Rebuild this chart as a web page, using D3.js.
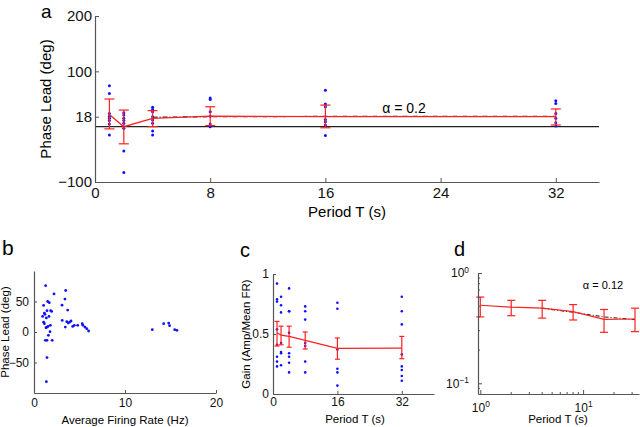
<!DOCTYPE html>
<html><head><meta charset="utf-8">
<script src="https://cdn.jsdelivr.net/npm/d3@7"></script>
<style>body{margin:0;background:#fff}svg{display:block}</style>
</head><body>
<div id="chart"></div>
<script>
// ---------- DATA ----------
const periods = [1, 2, 4, 8, 16, 32];
// Panel a: phase lead
const phaseMean = [22, 0, 15, 19, 18, 18];
const phaseHi = [50, 30, 29, 36, 39, 32];
const phaseLo = [-4, -31, 0, 2, -2, 3];
const phaseFitT = [4, 8, 16, 32];
const phaseFit = [17, 18, 18.5, 18.5];
const phaseDots = [
  [74, 60, 24, 19, 15, 11, 5, -15],
  [25, 21, 15, 11, 6, -3, -44, -83],
  [35, 31, 27, 18, 12, 6, -8, -15],
  [52, 49, 27, 19, 5, 0],
  [66, 41, 36, 13, 9, 3, -16],
  [47, 42, 24, 15, 7, 1]
];
const aXTicks = [0, 8, 16, 24, 32];
const aYTicks = [-100, 18, 100, 200];
const alphaA = "α = 0.2";

// Panel b: phase lead vs firing rate
const rateX = [1.28,2.2,3.48,1.5,1.68,1.06,3.08,3.4,1.83,1.43,0.95,1.2,1.14,1.36,1.65,1.94,1.06,1.14,1.54,1.32,1.43,1.8,1.76,1.58,1.25,1.43,2.0,1.43,1.36,3.1,3.44,3.7,3.6,3.77,3.92,4.07,4.25,4.43,4.8,5.38,5.3,5.6,5.8,6.0,13.0,14.25,14.8,14.9,15.46,15.7];
const rateY = [76,62.5,68,50,48,43.5,44,54,35,35,25.5,29,31,23,25.5,33.7,16,13.6,9.2,7,8,11,0.5,-5.4,-13.6,-13.6,-13.6,-42,-81.5,19,8,36,17,14.7,16.3,18,9.2,11,11,11,13.6,8,5.4,1.6,3.8,13.6,14.7,10.3,3.8,2.7];
const bXTicks = [0, 10, 20];
const bYTicks = [-50, 0, 50];

// Panel c / d: gain
const gainMean = [0.51, 0.49, 0.48, 0.447, 0.38, 0.383];
const gainHi = [0.605, 0.565, 0.565, 0.517, 0.467, 0.48];
const gainLo = [0.40, 0.41, 0.39, 0.375, 0.29, 0.294];
const gainDots = [
  [0.92, 0.79, 0.77, 0.54, 0.41, 0.31, 0.27, 0.23],
  [0.81, 0.74, 0.68, 0.425, 0.35, 0.34, 0.24],
  [0.88, 0.69, 0.69, 0.51, 0.34, 0.31, 0.26, 0.18],
  [0.73, 0.69, 0.62, 0.425, 0.40, 0.27, 0.18],
  [0.76, 0.71, 0.37, 0.21, 0.18, 0.07],
  [0.81, 0.69, 0.58, 0.33, 0.23, 0.20, 0.15, 0.11]
];
const cXTicks = [0, 16, 32];
const cYTicks = [0, 0.5, 1];
const gainFitT = [4, 8, 16, 32];
const gainFit = [0.48, 0.44, 0.40, 0.378];
const dXTicks = [1, 10];
const dYTicks = [0.1, 1];
const dXMinor = [2,3,4,5,6,7,8,9,20,30];
const dYMinor = [0.09,0.2,0.3,0.4,0.5,0.6,0.7,0.8,0.9];
const alphaD = "α = 0.12";

// ---------- DRAW ----------
const FONT = "'Liberation Sans', Arial, Helvetica, sans-serif";
const AX = "#555";
const RED = "#ff2020";
const BLUE = "#1010ff";
const svg = d3.select("#chart").append("svg").attr("width", 640).attr("height", 427)
  .style("font-family", FONT);

function styleAxis(g, fs) {
  g.attr("font-family", FONT).attr("font-size", fs);
  g.select(".domain").attr("stroke", AX).attr("stroke-width", 1.2);
  g.selectAll(".tick line").attr("stroke", AX);
  g.selectAll(".tick text").attr("fill", "#111");
}
function errBars(g, xs, ys, lo, hi, capW) {
  periods.forEach((p, i) => {
    const x = xs(p);
    g.append("line").attr("x1", x).attr("x2", x).attr("y1", ys(lo[i])).attr("y2", ys(hi[i]))
      .attr("stroke", RED).attr("stroke-width", 1.2);
    [lo[i], hi[i]].forEach(v => g.append("line").attr("x1", x - capW/2).attr("x2", x + capW/2)
      .attr("y1", ys(v)).attr("y2", ys(v)).attr("stroke", RED).attr("stroke-width", 1.2));
  });
}
function dots(g, xs, ys, arr, r) {
  arr.forEach((vals, i) => vals.forEach(v =>
    g.append("circle").attr("cx", xs(periods[i])).attr("cy", ys(v)).attr("r", r).attr("fill", BLUE)));
}

// ===== Panel a =====
{
  const x = d3.scaleLinear([0, 35], [95, 599]);
  const y = d3.scaleLinear([-100, 200], [182, 16]);
  const g = svg.append("g");
  g.append("line").attr("x1", x(0)).attr("x2", x(35)).attr("y1", y(0)).attr("y2", y(0))
    .attr("stroke", "#222").attr("stroke-width", 1.2);
  dots(g, x, y, phaseDots, 1.5);
  g.append("path").datum(phaseFitT.map((t, i) => [t, phaseFit[i]]))
    .attr("d", d3.line().x(d => x(d[0])).y(d => y(d[1])))
    .attr("fill", "none").attr("stroke", "#222").attr("stroke-width", 1.2).attr("stroke-dasharray", "5,2,1,2");
  g.append("path").datum(periods.map((t, i) => [t, phaseMean[i]]))
    .attr("d", d3.line().x(d => x(d[0])).y(d => y(d[1])))
    .attr("fill", "none").attr("stroke", RED).attr("stroke-width", 1.3);
  errBars(g, x, y, phaseLo, phaseHi, 10);
  const gx = g.append("g").attr("transform", "translate(0,182)")
    .call(d3.axisBottom(x).tickValues(aXTicks).tickSizeInner(-4).tickSizeOuter(0).tickPadding(5));
  styleAxis(gx, 15);
  const gy = g.append("g").attr("transform", "translate(95,0)")
    .call(d3.axisLeft(y).tickValues(aYTicks).tickFormat(d => d < 0 ? "\u2212" + Math.abs(d) : d)
      .tickSizeInner(-4).tickSizeOuter(0).tickPadding(3));
  styleAxis(gy, 15);
  g.append("text").attr("x", 404).attr("y", 113).attr("text-anchor", "middle").attr("font-size", 14).text(alphaA);
  g.append("text").attr("x", 347).attr("y", 217).attr("text-anchor", "middle").attr("font-size", 15).text("Period T (s)");
  g.append("text").attr("transform", "translate(51,99) rotate(-90)").attr("text-anchor", "middle")
    .attr("font-size", 15).text("Phase Lead (deg)");
  g.append("text").attr("x", 41).attr("y", 17.5).attr("font-size", 19).text("a");
}

// ===== Panel b =====
{
  const x = d3.scaleLinear([0, 20], [34, 216]);
  const y = d3.scaleLinear([-100, 100], [393, 271]);
  const g = svg.append("g");
  rateX.forEach((v, i) => g.append("circle").attr("cx", x(v)).attr("cy", y(rateY[i])).attr("r", 1.4).attr("fill", BLUE));
  const gx = g.append("g").attr("transform", "translate(0,393)")
    .call(d3.axisBottom(x).tickValues(bXTicks).tickSizeInner(-3).tickSizeOuter(0).tickPadding(5));
  styleAxis(gx, 12);
  const gy = g.append("g").attr("transform", "translate(34,0)")
    .call(d3.axisLeft(y).tickValues(bYTicks).tickFormat(d => d < 0 ? "\u2212" + Math.abs(d) : d)
      .tickSizeInner(-3).tickSizeOuter(0).tickPadding(5));
  styleAxis(gy, 12);
  g.append("text").attr("x", 125).attr("y", 424).attr("text-anchor", "middle").attr("font-size", 11.5).text("Average Firing Rate (Hz)");
  g.append("text").attr("transform", "translate(9,332) rotate(-90)").attr("text-anchor", "middle")
    .attr("font-size", 11.5).text("Phase Lead (deg)");
  g.append("text").attr("x", 2).attr("y", 255).attr("font-size", 21).text("b");
}

// ===== Panel c =====
{
  const x = d3.scaleLinear([0, 40], [273, 434]);
  const y = d3.scaleLinear([0, 1], [394, 274]);
  const g = svg.append("g");
  dots(g, x, y, gainDots, 1.3);
  g.append("path").datum(periods.map((t, i) => [t, gainMean[i]]))
    .attr("d", d3.line().x(d => x(d[0])).y(d => y(d[1])))
    .attr("fill", "none").attr("stroke", RED).attr("stroke-width", 1.2);
  errBars(g, x, y, gainLo, gainHi, 5);
  const gx = g.append("g").attr("transform", "translate(0,394)")
    .call(d3.axisBottom(x).tickValues(cXTicks).tickSizeInner(-3).tickSizeOuter(0).tickPadding(3));
  styleAxis(gx, 12);
  const gy = g.append("g").attr("transform", "translate(273,0)")
    .call(d3.axisLeft(y).tickValues(cYTicks).tickFormat(d3.format("~g")).tickSizeInner(-3).tickSizeOuter(0).tickPadding(4));
  styleAxis(gy, 12);
  g.append("text").attr("x", 355).attr("y", 423).attr("text-anchor", "middle").attr("font-size", 11.5).text("Period T (s)");
  g.append("text").attr("transform", "translate(250,334) rotate(-90)").attr("text-anchor", "middle")
    .attr("font-size", 11.5).text("Gain (Amp/Mean FR)");
  g.append("text").attr("x", 240).attr("y", 257).attr("font-size", 20).text("c");
}

// ===== Panel d =====
{
  const x = d3.scaleLog([0.95, 35], [478, 639]);
  const y = d3.scaleLog([0.08, 1], [394, 273]);
  const g = svg.append("g");
  g.append("path").datum(gainFitT.map((t, i) => [t, gainFit[i]]))
    .attr("d", d3.line().x(d => x(d[0])).y(d => y(d[1])))
    .attr("fill", "none").attr("stroke", "#222").attr("stroke-width", 1.1).attr("stroke-dasharray", "4,2,1,2");
  g.append("path").datum(periods.map((t, i) => [t, gainMean[i]]))
    .attr("d", d3.line().x(d => x(d[0])).y(d => y(d[1])))
    .attr("fill", "none").attr("stroke", RED).attr("stroke-width", 1.2);
  errBars(g, x, y, gainLo, gainHi, 8);
  const supFmt = (sel) => sel.selectAll(".tick text").each(function(d) {
    const t = d3.select(this); const e = Math.round(Math.log10(d));
    t.text("10"); t.append("tspan").attr("dy", "-0.55em").attr("font-size", "0.7em").text(e < 0 ? "\u2212" + Math.abs(e) : e);
  });
  const gx = g.append("g").attr("transform", "translate(0,394)")
    .call(d3.axisBottom(x).tickValues(dXTicks).tickSizeInner(-4).tickSizeOuter(0).tickPadding(9));
  styleAxis(gx, 12); supFmt(gx);
  gx.selectAll(".minor").data(dXMinor).enter().append("line").attr("x1", d => x(d)).attr("x2", d => x(d))
    .attr("y1", 0).attr("y2", -2).attr("stroke", AX);
  const gy = g.append("g").attr("transform", "translate(478,0)")
    .call(d3.axisLeft(y).tickValues(dYTicks).tickSizeInner(-4).tickSizeOuter(0).tickPadding(9));
  styleAxis(gy, 12); supFmt(gy);
  gy.selectAll(".minor").data(dYMinor).enter().append("line").attr("y1", d => y(d)).attr("y2", d => y(d))
    .attr("x1", 0).attr("x2", 2).attr("stroke", AX);
  g.append("text").attr("x", 603).attr("y", 289).attr("text-anchor", "middle").attr("font-size", 11).text(alphaD);
  g.append("text").attr("x", 558).attr("y", 423).attr("text-anchor", "middle").attr("font-size", 11.5).text("Period T (s)");
  g.append("text").attr("x", 454).attr("y", 256).attr("font-size", 20).text("d");
}
</script>
</body></html>
